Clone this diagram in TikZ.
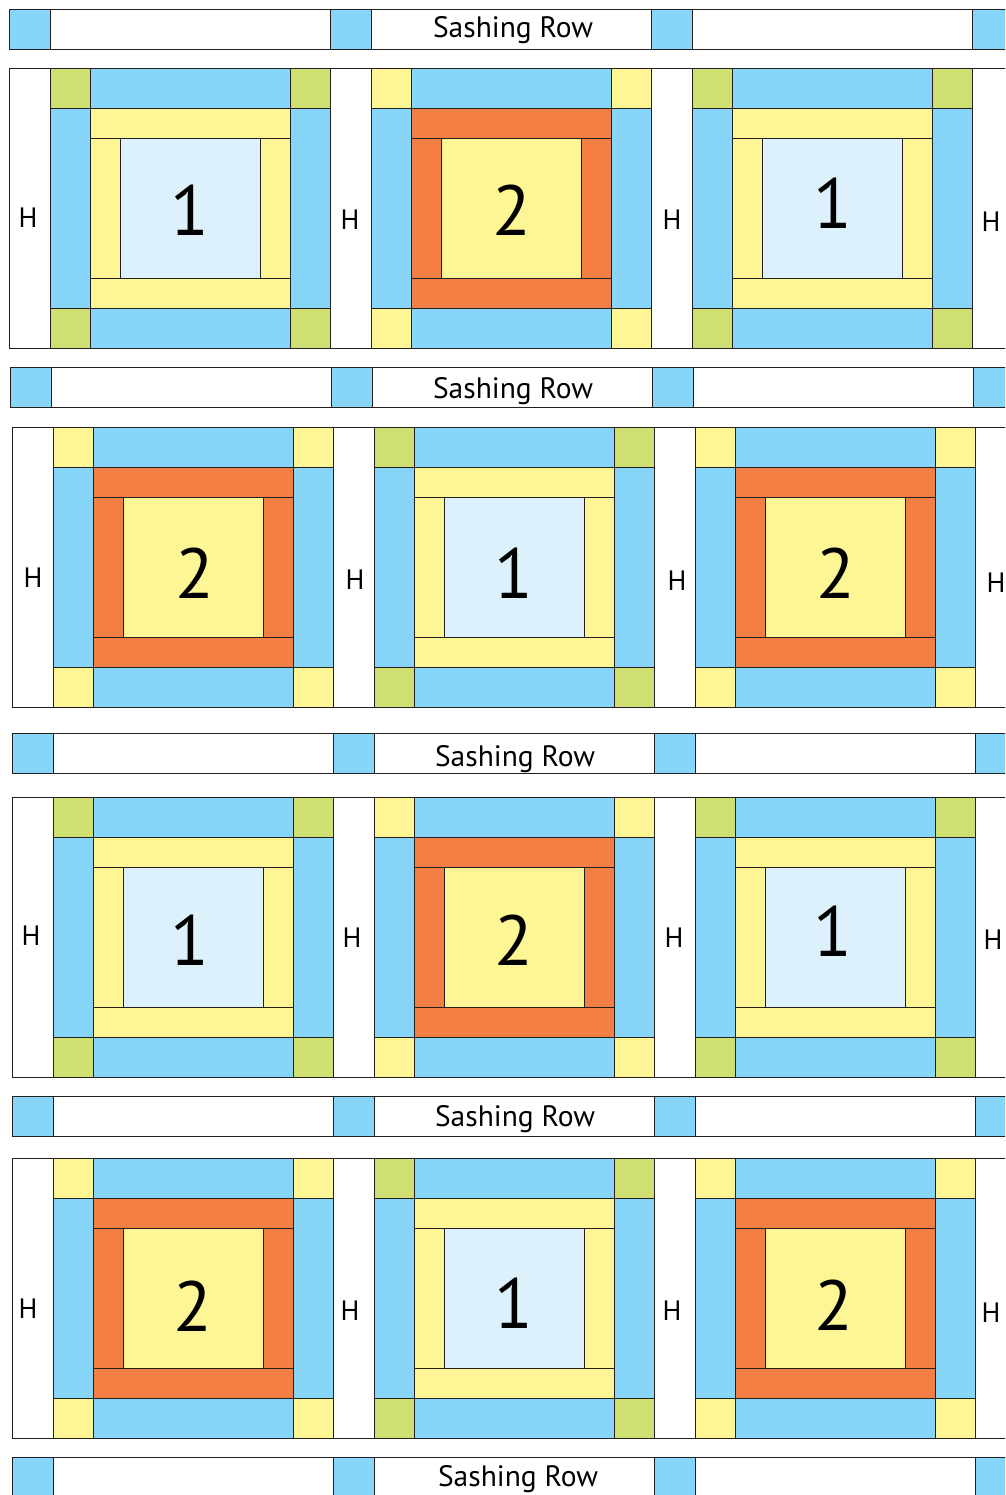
\documentclass[tikz,border=0pt]{standalone}
\usepackage{fontspec}
\setmainfont{PT Sans}
\definecolor{qblue}{HTML}{87D5F8}
\definecolor{qgreen}{HTML}{D0DF71}
\definecolor{qyellow}{HTML}{FEF594}
\definecolor{qorange}{HTML}{F37F45}
\definecolor{qpale}{HTML}{DCF1FB}
\definecolor{qline}{HTML}{231F20}
\tikzset{
  patch/.style={draw=qline, line width=0.9pt, line join=miter},
  hlabel/.style={font=\fontsize{28}{28}\selectfont, inner sep=0pt, anchor=center},
  numlabel/.style={font=\fontsize{71}{71}\selectfont, inner sep=0pt, anchor=center},
  sashlabel/.style={font=\fontsize{29.5}{29.5}\selectfont, inner sep=0pt, anchor=base},
}
% block: x, y, corner colour, ring colour, centre colour
\newcommand{\qblk}[5]{%
  \begin{scope}[shift={(#1,#2)}]
    \foreach \cx/\cy in {0/0,240/0,0/240,240/240}
      \filldraw[patch,fill=#3] (\cx,\cy) rectangle ++(40,40);
    \filldraw[patch,fill=qblue] (40,0) rectangle (240,40);
    \filldraw[patch,fill=qblue] (40,240) rectangle (240,280);
    \filldraw[patch,fill=qblue] (0,40) rectangle (40,240);
    \filldraw[patch,fill=qblue] (240,40) rectangle (280,240);
    \filldraw[patch,fill=#4] (40,40) rectangle (240,70);
    \filldraw[patch,fill=#4] (40,210) rectangle (240,240);
    \filldraw[patch,fill=#4] (40,70) rectangle (70,210);
    \filldraw[patch,fill=#4] (210,70) rectangle (240,210);
    \filldraw[patch,fill=#5] (70,70) rectangle (210,210);
  \end{scope}}
\newcommand{\qone}[2]{\qblk{#1}{#2}{qgreen}{qyellow}{qpale}}
\newcommand{\qtwo}[2]{\qblk{#1}{#2}{qyellow}{qorange}{qyellow}}
% H strips of a block row: x0, y
\newcommand{\qhstrips}[2]{%
  \foreach \k in {0,1,2,3}
    \filldraw[patch,fill=white] ({#1+321*\k},#2) rectangle ++(41,280);}
% sashing row: x0, y
\newcommand{\qsash}[2]{%
  \foreach \k in {0,1,2,3}{
    \filldraw[patch,fill=qblue] ({#1+321*\k},#2) rectangle ++(41,40);
    \filldraw[patch,fill=white] ({#1+321*\k+41},#2) rectangle ++(280,40);}}
\begin{document}
\begin{tikzpicture}[x=1pt,y=-1pt]
\useasboundingbox (0,0) rectangle (1005,1495);
\fill[white] (0,0) rectangle (1005,1495);
\begin{scope}
\clip (0,0) rectangle (1005,1495);
% sashing rows
\qsash{9}{9}
\qsash{10}{367}
\qsash{12}{733}
\qsash{12}{1096}
\qsash{12}{1457}
% block rows
\qhstrips{9}{68}
\qone{50}{68}\qtwo{371}{68}\qone{692}{68}
\qhstrips{12}{427}
\qtwo{53}{427}\qone{374}{427}\qtwo{695}{427}
\qhstrips{12}{797}
\qone{53}{797}\qtwo{374}{797}\qone{695}{797}
\qhstrips{12}{1158}
\qtwo{53}{1158}\qone{374}{1158}\qtwo{695}{1158}
% sashing labels
\node[sashlabel] (s1) at (513,38) {Sashing Row};
\node[sashlabel] (s2) at (513,398) {Sashing Row};
\node[sashlabel] (s3) at (515,766) {Sashing Row};
\node[sashlabel] (s4) at (515,1126) {Sashing Row};
\node[sashlabel] (s5) at (518,1486) {Sashing Row};
% H labels
\node[hlabel] (h11) at (28,218) {H};
\node[hlabel] (h12) at (350,220) {H};
\node[hlabel] (h13) at (672,220) {H};
\node[hlabel] (h14) at (991,222) {H};
\node[hlabel] (h21) at (33,578) {H};
\node[hlabel] (h22) at (355,580) {H};
\node[hlabel] (h23) at (677,581) {H};
\node[hlabel] (h24) at (996,583) {H};
\node[hlabel] (h31) at (31,936) {H};
\node[hlabel] (h32) at (352,938) {H};
\node[hlabel] (h33) at (674,938) {H};
\node[hlabel] (h34) at (993,940) {H};
\node[hlabel] (h41) at (28,1309) {H};
\node[hlabel] (h42) at (350,1311) {H};
\node[hlabel] (h43) at (672,1311) {H};
\node[hlabel] (h44) at (991,1313) {H};
% block numbers
\node[numlabel] (n11) at (190,210) {1};
\node[numlabel] (n12) at (512,210) {2};
\node[numlabel] (n13) at (833,203) {1};
\node[numlabel] (n21) at (195,573) {2};
\node[numlabel] (n22) at (514,573) {1};
\node[numlabel] (n23) at (836,573) {2};
\node[numlabel] (n31) at (190,940) {1};
\node[numlabel] (n32) at (514,940) {2};
\node[numlabel] (n33) at (833,931) {1};
\node[numlabel] (n41) at (193,1306) {2};
\node[numlabel] (n42) at (514,1303) {1};
\node[numlabel] (n43) at (834,1305) {2};
\end{scope}
\end{tikzpicture}
\end{document}
